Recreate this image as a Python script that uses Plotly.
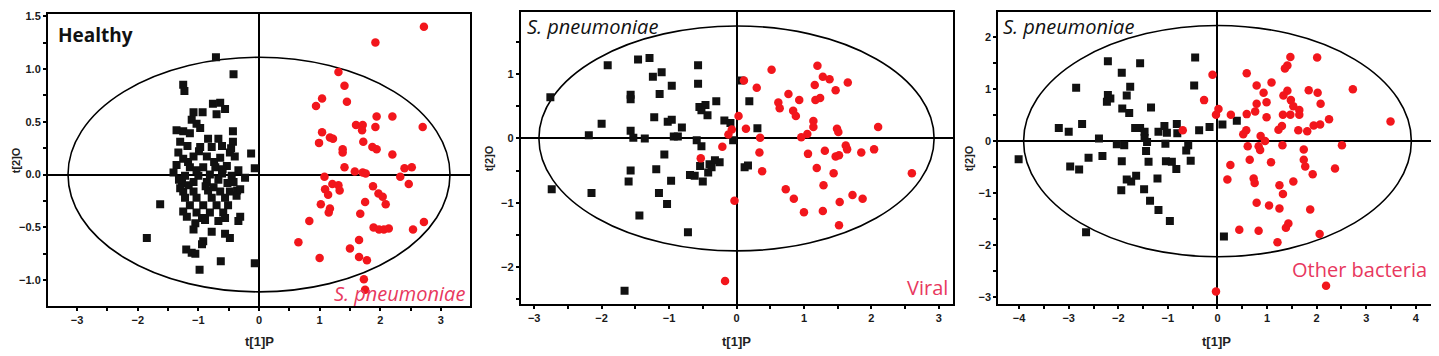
import plotly.graph_objects as go

# ---------------- Panel 1: Healthy (squares) vs S. pneumoniae (circles) ----------------
p1_healthy_x = [-0.71, -0.42, -1.25, -1.23, -0.76, -0.64, -0.56, -0.70, -1.08, -0.93, -1.11, -1.03, -0.97,
                -1.36, -1.25, -1.14, -0.43, -0.43, -0.13, -0.07, -1.33, -0.97, -0.78, -0.61, -0.48, -1.25,
                -1.08, -0.86, -0.64, -0.40, -1.36, -1.14, -0.92, -0.72, -0.53, -0.34, -1.41, -1.22, -1.00,
                -0.81, -0.61, -0.45, -0.23, -1.27, -1.08, -0.86, -0.67, -0.52, -1.25, -1.08, -0.84, -0.64,
                -0.36, -1.22, -1.03, -0.78, -0.56, -0.37, -1.14, -0.92, -0.70, -0.51, -1.63, -1.25, -1.03,
                -0.81, -0.59, -1.19, -0.94, -0.56, -0.31, -0.34, -1.05, -0.67, -1.08, -0.78, -0.56, -0.48,
                -0.92, -0.94, -1.20, -1.11, -1.05, -0.63, -0.98, -0.07, -1.85, -1.30, -0.84, -0.67, -1.03,
                -0.42, -1.30, -0.48, -0.31, -1.17, -0.88, -0.74, -1.18, -0.99, -0.75, -1.32, -0.60, -0.89,
                -1.16, -0.46]
p1_healthy_y = [1.11, 0.95, 0.85, 0.79, 0.67, 0.68, 0.62, 0.57, 0.59, 0.59, 0.52, 0.48, 0.44,
                0.42, 0.41, 0.39, 0.41, 0.31, 0.20, 0.06, 0.21, 0.26, 0.26, 0.27, 0.21, 0.15,
                0.17, 0.17, 0.16, 0.17, 0.09, 0.07, 0.07, 0.07, 0.08, 0.04, 0.02, -0.01, -0.01,
                0.00, 0.01, -0.01, -0.03, -0.08, -0.07, -0.07, -0.05, -0.08, -0.16, -0.16, -0.15, -0.16,
                -0.15, -0.22, -0.22, -0.22, -0.22, -0.20, -0.29, -0.29, -0.29, -0.29, -0.28, -0.35, -0.36,
                -0.36, -0.36, -0.40, -0.41, -0.41, -0.40, -0.44, -0.46, -0.44, -0.52, -0.54, -0.56, -0.60,
                -0.63, -0.66, -0.71, -0.74, -0.75, -0.82, -0.90, -0.84, -0.60, 0.31, 0.34, 0.34, 0.04,
                -0.07, -0.13, -0.16, -0.14, 0.12, -0.11, 0.12, 0.27, 0.22, -0.12, -0.05, 0.05, -0.43,
                -0.10, 0.25]

p1_spn_x = [2.72, 1.92, 1.31, 1.41, 1.04, 0.94, 1.45, 1.94, 2.20, 1.60, 1.71, 1.70, 1.92, 2.70, 1.04,
            0.99, 1.17, 1.22, 1.72, 1.38, 1.38, 1.87, 1.94, 2.20, 1.41, 1.58, 1.71, 1.76, 2.40, 2.52,
            2.33, 2.47, 1.08, 1.09, 1.21, 1.31, 1.33, 1.14, 1.88, 1.97, 2.04, 2.09, 1.75, 1.02, 1.17,
            1.15, 1.67, 0.83, 2.72, 1.89, 1.98, 2.06, 2.14, 2.54, 0.65, 1.65, 1.50, 1.00, 1.65, 1.78,
            1.73, 1.75]
p1_spn_y = [1.40, 1.25, 0.97, 0.84, 0.72, 0.65, 0.69, 0.55, 0.55, 0.47, 0.47, 0.42, 0.45, 0.45, 0.40,
            0.30, 0.35, 0.34, 0.31, 0.24, 0.21, 0.26, 0.24, 0.19, 0.07, 0.03, 0.02, 0.01, 0.06, 0.07,
            -0.02, -0.09, -0.02, -0.14, -0.09, -0.10, -0.15, -0.19, -0.11, -0.18, -0.21, -0.28, -0.26, -0.28, -0.32,
            -0.36, -0.37, -0.44, -0.45, -0.50, -0.52, -0.52, -0.51, -0.52, -0.64, -0.62, -0.70, -0.79, -0.78, -0.81,
            -0.99, -1.09]

# ---------------- Panel 2: S. pneumoniae (squares) vs Viral (circles) ----------------
p2_spn_x = [-2.76, -2.74, -1.91, -1.46, -1.29, -1.24, -1.11, -0.96, -0.57, -0.57, -1.57, -1.57, -1.14,
            -2.00, -2.19, -1.57, -1.53, -1.36, -1.22, -1.02, -0.96, -0.81, -0.93, -0.87, -0.55, -0.46,
            -0.52, -0.43, -0.30, -0.18, -0.09, -0.59, -0.52, -0.05, -1.07, -1.57, -1.60, -1.19, -0.97,
            -2.15, -1.15, -1.03, -1.44, -0.72, -1.66, -0.54, -0.69, -0.62, -0.50, -0.42, -0.40, -0.32,
            -0.25, -0.37, 0.06, 0.19, 0.31, 0.12, 0.17]
p2_spn_y = [0.64, -0.79, 1.14, 1.23, 1.25, 0.96, 1.03, 0.82, 1.14, 0.85, 0.68, 0.61, 0.69,
            0.23, 0.05, 0.12, 0.01, 0.00, 0.33, 0.26, 0.29, 0.17, 0.03, 0.03, 0.49, 0.52,
            0.44, 0.36, 0.58, 0.28, 0.24, -0.03, -0.12, -0.03, -0.25, -0.50, -0.67, -0.48, -0.66,
            -0.85, -0.85, -1.02, -1.20, -1.46, -2.37, -0.43, -0.57, -0.58, -0.67, -0.53, -0.40, -0.34,
            -0.37, -0.45, 0.90, 0.58, 0.16, -0.45, -0.42]

p2_viral_x = [0.52, 1.20, 1.28, 1.38, 1.65, 1.16, 1.47, 0.11, 0.30, 0.77, 0.62, 0.64, 0.93, 1.17, 1.24,
              0.84, 0.88, 1.14, 1.14, 1.05, 0.96, 1.49, 1.51, 2.10, 0.03, 0.14, -0.07, -0.12, 0.35, -0.21,
              0.34, 1.06, 1.31, 1.62, 1.64, 1.47, 1.52, 1.85, 2.04, 0.38, 1.19, 1.44, 2.60, 0.73, 0.85,
              1.29, 1.72, 1.87, 1.53, 1.00, 1.28, 1.52, -0.03, -0.17, -0.53]
p2_viral_y = [1.07, 1.13, 0.96, 0.92, 0.87, 0.83, 0.75, 0.90, 0.79, 0.69, 0.56, 0.47, 0.60, 0.60, 0.63,
              0.43, 0.35, 0.27, 0.18, 0.07, 0.02, 0.15, 0.10, 0.18, 0.35, 0.15, 0.14, 0.06, 0.01, -0.13,
              -0.22, -0.24, -0.19, -0.11, -0.17, -0.28, -0.26, -0.22, -0.17, -0.51, -0.46, -0.54, -0.54, -0.79, -0.94,
              -0.73, -0.88, -0.94, -0.99, -1.15, -1.13, -1.35, -0.97, -2.22, -0.31]

# ---------------- Panel 3: S. pneumoniae (squares) vs Other bacteria (circles) ----------------
p3_spn_x = [-2.21, -1.56, -0.45, -1.93, -2.85, -1.76, -0.47, -2.21, -2.16, -2.23, -1.83, -1.92, -1.78,
            -1.34, -3.20, -3.00, -2.73, -2.39, -4.01, -2.60, -2.32, -2.97, -2.79, -2.03, -1.88, -1.66,
            -1.56, -1.47, -1.47, -1.42, -1.44, -1.19, -1.07, -1.02, -1.05, -0.82, -0.81, -0.59, -0.63,
            -0.54, -0.37, -0.16, 0.10, -1.93, -1.39, -1.04, -0.92, -0.83, -1.83, -1.74, -1.64, -1.21,
            -1.94, -1.48, -1.36, -1.19, -0.96, -2.65, 0.13, 0.39]
p3_spn_y = [1.54, 1.50, 1.61, 1.32, 1.03, 1.05, 1.07, 0.89, 0.82, 0.76, 0.88, 0.63, 0.54,
            0.65, 0.25, 0.18, 0.33, 0.05, -0.35, -0.32, -0.29, -0.49, -0.55, -0.06, -0.08, 0.25,
            0.25, 0.18, 0.06, -0.02, -0.19, 0.18, 0.29, 0.16, -0.05, 0.33, 0.15, -0.08, -0.18,
            -0.38, 0.21, 0.27, 0.32, -0.39, -0.40, -0.39, -0.40, -0.54, -0.74, -0.78, -0.67, -0.72,
            -0.95, -0.93, -1.15, -1.33, -1.54, -1.76, -1.84, 0.39]

p3_other_x = [1.47, 2.01, 1.41, 1.36, -0.10, 0.59, 1.09, 0.79, 0.93, 1.41, 1.33, 1.84, 2.02, 2.73, -0.27,
              0.79, 0.99, 1.48, 2.08, 1.53, 1.65, 0.02, -0.03, 0.27, 0.59, 0.76, 0.99, 1.32, 1.47, 1.65,
              2.25, 3.49, 1.23, 1.30, 1.63, 1.81, 1.94, 2.07, 0.58, 0.52, 0.87, 0.96, 0.61, 0.83, 0.86,
              1.31, 2.51, 1.74, 0.65, 1.08, 1.74, 1.77, 0.26, 2.37, 1.92, 0.20, 0.73, 0.75, 1.25, 1.53,
              1.32, 0.79, 1.04, 1.25, 1.87, 1.43, 1.38, 0.44, 0.83, 2.06, 1.21, -0.03, 2.19, -0.70]
p3_other_y = [1.62, 1.61, 1.46, 1.40, 1.28, 1.31, 1.13, 1.07, 0.93, 0.97, 0.88, 0.98, 0.93, 1.00, 0.79,
              0.72, 0.75, 0.79, 0.72, 0.67, 0.60, 0.62, 0.51, 0.51, 0.52, 0.57, 0.46, 0.51, 0.51, 0.51,
              0.42, 0.38, 0.22, 0.29, 0.21, 0.19, 0.30, 0.32, 0.21, 0.13, 0.10, 0.00, -0.10, -0.10, -0.17,
              -0.08, -0.08, -0.16, -0.36, -0.41, -0.36, -0.49, -0.46, -0.53, -0.64, -0.74, -0.72, -0.81, -0.85, -0.78,
              -1.02, -1.19, -1.24, -1.30, -1.32, -1.59, -1.67, -1.71, -1.73, -1.79, -1.95, -2.90, -2.79, 0.21]

# Ellipse semi-axes (Hotelling T2) per panel
ellipse_axes = [(3.15, 1.11), (2.93, 1.75), (3.91, 2.23)]

# Axis ranges and tick settings per panel
x_ranges = [(-3.48, 3.48), (-3.2, 3.21), (-4.42, 4.3)]
y_ranges = [(-1.24, 1.52), (-2.57, 1.96), (-3.14, 2.48)]
y_dticks = [0.5, 1, 1]
y_minor = [0.25, 0.5, 0.5]
y_formats = [".1f", "d", "d"]

# page body has an 8px margin: build the figure smaller and shift everything
OFF = 8
W, H = 1439 - OFF, 356 - OFF
# plot frames in screen pixels: (left, right, top, bottom)
frames = [(48, 470, 10, 305), (520.7, 953, 8.5, 303), (998.3, 1430.7, 8.5, 303.3)]


def fx(px):
    return (px - OFF) / W


def fy(py):
    return 1 - (py - OFF) / H


RED = "#f2161c"
TEXT_RED = "#e8385e"
BLACK = "#111111"

fig = go.Figure()

panels = [
    (p1_healthy_x, p1_healthy_y, p1_spn_x, p1_spn_y),
    (p2_spn_x, p2_spn_y, p2_viral_x, p2_viral_y),
    (p3_spn_x, p3_spn_y, p3_other_x, p3_other_y),
]

for i, (sx, sy, cx, cy) in enumerate(panels):
    xa = "x" if i == 0 else f"x{i+1}"
    ya = "y" if i == 0 else f"y{i+1}"
    fig.add_trace(go.Scatter(x=sx, y=sy, mode="markers", xaxis=xa, yaxis=ya,
                             marker=dict(symbol="square", size=8, color=BLACK, line=dict(width=0))))
    fig.add_trace(go.Scatter(x=cx, y=cy, mode="markers", xaxis=xa, yaxis=ya,
                             marker=dict(symbol="circle", size=8.5, color=RED, line=dict(width=0))))
    a, b = ellipse_axes[i]
    fig.add_shape(type="circle", xref=xa, yref=ya, x0=-a, x1=a, y0=-b, y1=b,
                  line=dict(color="black", width=1.6), layer="below")

    l, r, t, bt = frames[i]
    tickfont = dict(family="Liberation Sans, Arial, sans-serif", size=11, color="#1a1a1a", weight="bold")
    xkey = "xaxis" if i == 0 else f"xaxis{i+1}"
    ykey = "yaxis" if i == 0 else f"yaxis{i+1}"
    fig.update_layout(**{
        xkey: dict(domain=[fx(l), fx(r)], range=list(x_ranges[i]), anchor=ya,
                   showgrid=False, zeroline=True, zerolinecolor="black", zerolinewidth=1.6,
                   showline=True, mirror=True, linecolor="black", linewidth=2,
                   ticks="outside", ticklen=3, tickwidth=1.5, tickcolor="black",
                   tick0=0, dtick=1, tickfont=tickfont, ticklabeloverflow="allow",
                   minor=dict(dtick=0.5, tick0=0, ticks="outside", ticklen=3, tickwidth=1.5,
                              tickcolor="black", showgrid=False)),
        ykey: dict(domain=[fy(bt), fy(t)], range=list(y_ranges[i]), anchor=xa,
                   showgrid=False, zeroline=True, zerolinecolor="black", zerolinewidth=1.6,
                   showline=True, mirror=True, linecolor="black", linewidth=2,
                   ticks="outside", ticklen=3, tickwidth=1.5, tickcolor="black",
                   tick0=0, dtick=y_dticks[i], tickformat=y_formats[i], tickfont=tickfont,
                   ticklabeloverflow="allow",
                   minor=dict(dtick=y_minor[i], tick0=0, ticks="outside", ticklen=3, tickwidth=1.5,
                              tickcolor="black", showgrid=False)),
    })


def ann(text, px, py, xanchor, size, color, family="Open Sans, sans-serif", textangle=0, yanchor="middle"):
    fig.add_annotation(text=text, x=fx(px), y=fy(py), xref="paper", yref="paper",
                       xanchor=xanchor, yanchor=yanchor, showarrow=False, textangle=textangle,
                       font=dict(family=family, size=size, color=color), borderpad=0)


axis_font = "Liberation Sans, Arial, sans-serif"
# axis titles
for cx_title in [259, 736.7, 1216.7]:
    ann("<b>t[1]P</b>", cx_title, 341, "center", 13, "#222222", family=axis_font)
ann("<b>t[2]O</b>", 16, 158, "center", 11, "#222222", family=axis_font, textangle=-90)
ann("<b>t[2]O</b>", 489, 156, "center", 11, "#222222", family=axis_font, textangle=-90)
ann("<b>t[2]O</b>", 969, 156, "center", 11, "#222222", family=axis_font, textangle=-90)

# group labels
ann("<b>Healthy</b>", 57, 31, "left", 19, BLACK)
ann("<i>S. pneumoniae</i>", 466, 293, "right", 20, TEXT_RED)
ann("<i>S. pneumoniae</i>", 526, 23, "left", 20, BLACK)
ann("Viral", 949, 287, "right", 20, TEXT_RED)
ann("<i>S. pneumoniae</i>", 1002, 23, "left", 20, BLACK)
ann("Other bacteria", 1428, 268, "right", 20, TEXT_RED)

fig.update_layout(width=W, height=H, margin=dict(l=0, r=0, t=0, b=0),
                  paper_bgcolor="white", plot_bgcolor="white", showlegend=False)

fig.write_html("out.html")
